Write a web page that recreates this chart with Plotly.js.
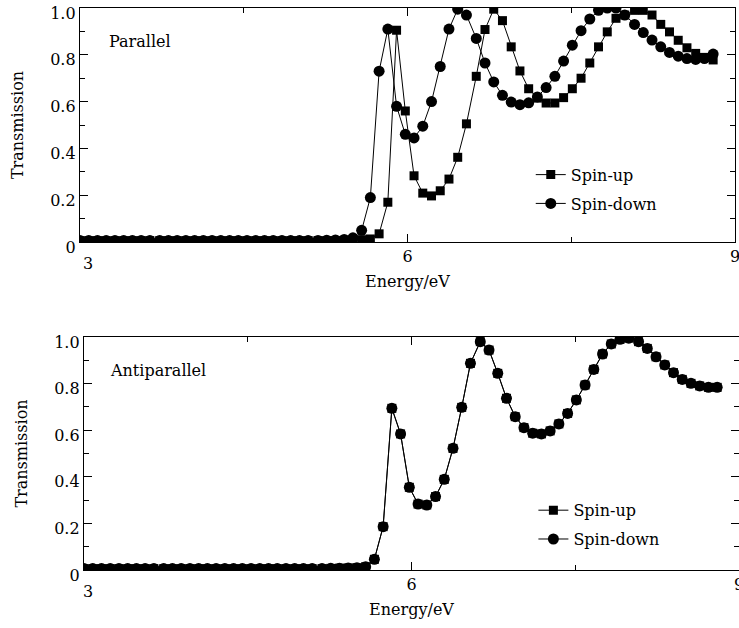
<!DOCTYPE html>
<html>
<head>
<meta charset="utf-8">
<script src="https://cdn.plot.ly/plotly-3.0.1.min.js"></script>
<style>html,body{margin:0;padding:0;background:#fff;}#chart{width:739px;height:628px;}</style>
</head>
<body>
<div id="chart"></div>
<script>
// Energy grid (eV)
var energy = [3.00,3.08,3.16,3.24,3.32,3.40,3.48,3.56,3.64,3.73,3.81,3.89,3.97,4.05,4.13,4.21,4.29,4.37,4.45,4.53,
  4.61,4.69,4.77,4.85,4.93,5.01,5.09,5.18,5.26,5.34,5.42,5.50,5.58,5.66,5.74,5.82,5.90,5.98,6.06,6.14,
  6.22,6.30,6.38,6.46,6.54,6.63,6.71,6.79,6.87,6.95,7.03,7.11,7.19,7.27,7.35,7.43,7.51,7.59,7.67,7.75,
  7.83,7.91,7.99,8.08,8.16,8.24,8.32,8.40,8.48,8.56,8.64,8.72,8.80];

// Parallel configuration
var parUp = [0.006,0.006,0.006,0.006,0.006,0.006,0.006,0.006,0.006,0.006,0.006,0.006,0.006,0.006,0.006,0.006,0.006,0.006,0.006,0.006,
  0.006,0.006,0.006,0.006,0.006,0.006,0.006,0.006,0.006,0.006,0.007,0.008,0.01,0.013,0.035,0.17,0.905,0.56,0.283,0.209,
  0.197,0.219,0.269,0.362,0.505,0.708,0.908,0.995,0.946,0.834,0.731,0.655,0.615,0.594,0.594,0.617,0.655,0.70,0.765,0.834,
  0.898,0.956,0.97,0.99,0.99,0.97,0.93,0.898,0.862,0.83,0.806,0.789,0.778];
var parDown = [0.006,0.006,0.006,0.006,0.006,0.006,0.006,0.006,0.006,0.006,0.006,0.006,0.006,0.006,0.006,0.006,0.006,0.006,0.006,0.006,
  0.006,0.006,0.006,0.006,0.006,0.006,0.006,0.007,0.008,0.009,0.011,0.018,0.05,0.19,0.73,0.91,0.58,0.46,0.445,0.495,
  0.60,0.75,0.91,0.995,0.97,0.87,0.765,0.684,0.627,0.598,0.587,0.595,0.62,0.66,0.708,0.773,0.841,0.903,0.953,0.99,
  1.0,1.0,0.97,0.93,0.895,0.863,0.834,0.81,0.794,0.784,0.78,0.784,0.803];

// Antiparallel configuration
var antiUp = [0.006,0.006,0.006,0.006,0.006,0.006,0.006,0.006,0.006,0.006,0.006,0.006,0.006,0.006,0.006,0.006,0.006,0.006,0.006,0.006,
  0.006,0.006,0.006,0.006,0.006,0.006,0.006,0.006,0.007,0.008,0.009,0.01,0.014,0.046,0.186,0.694,0.584,0.355,0.283,0.279,
  0.315,0.389,0.522,0.698,0.887,0.98,0.944,0.844,0.737,0.658,0.611,0.587,0.584,0.597,0.627,0.672,0.73,0.794,0.861,0.927,
  0.97,0.99,0.995,0.98,0.951,0.915,0.88,0.847,0.818,0.801,0.79,0.784,0.784];
var antiDown = [0.006,0.006,0.006,0.006,0.006,0.006,0.006,0.006,0.006,0.006,0.006,0.006,0.006,0.006,0.006,0.006,0.006,0.006,0.006,0.006,
  0.006,0.006,0.006,0.006,0.006,0.006,0.006,0.006,0.007,0.008,0.009,0.01,0.014,0.046,0.186,0.694,0.584,0.355,0.283,0.279,
  0.315,0.389,0.522,0.698,0.887,0.98,0.944,0.844,0.737,0.658,0.611,0.587,0.584,0.597,0.627,0.672,0.73,0.794,0.861,0.927,
  0.97,0.99,0.995,0.98,0.951,0.915,0.88,0.847,0.818,0.801,0.79,0.784,0.784];

var xTickVals = [3, 6, 9];
var xTickText = ['', '6', '9'];
var yTickVals = [0, 0.2, 0.4, 0.6, 0.8, 1.0];
var yTickText = ['0', '0.2', '0.4', '0.6', '0.8', '1.0'];
var seriesNames = ['Spin-up', 'Spin-down'];
var panelLabels = ['Parallel', 'Antiparallel'];

var FONT = 'DejaVu Serif, serif';
var fnt = {family: FONT, size: 16, color: '#000'};

function tr(y, name, sym, size, xa, ya, leg) {
  return {
    x: energy, y: y, name: name, type: 'scatter', mode: 'lines+markers',
    xaxis: xa, yaxis: ya, legend: leg, legendgroup: leg + name,
    line: {color: '#000', width: 1},
    marker: {symbol: sym, size: size, color: '#000', line: {width: 0}},
    cliponaxis: true
  };
}

var data = [
  tr(parUp, seriesNames[0], 'square', 9, 'x', 'y', 'legend'),
  tr(parDown, seriesNames[1], 'circle', 11, 'x', 'y', 'legend'),
  tr(antiUp, seriesNames[0], 'square', 9, 'x2', 'y2', 'legend2'),
  tr(antiDown, seriesNames[1], 'circle', 11, 'x2', 'y2', 'legend2')
];

function xax(domain, anchor) {
  return {
    domain: domain, anchor: anchor, range: [3, 9],
    tickmode: 'array', tickvals: xTickVals, ticktext: xTickText,
    ticks: 'inside', ticklen: 8, tickwidth: 1, tickcolor: '#000',
    minor: {tickmode: 'array', tickvals: [4.5, 7.5], ticks: 'inside', ticklen: 5, tickcolor: '#000'},
    mirror: 'ticks', showline: true, linecolor: '#000', linewidth: 1.2,
    showgrid: false, zeroline: false, tickfont: fnt, ticklabeloverflow: 'allow',
    title: {text: 'Energy/eV', font: fnt, standoff: 10}
  };
}
function yax(domain, anchor) {
  return {
    domain: domain, anchor: anchor, range: [0, 1.0],
    tickmode: 'array', tickvals: yTickVals, ticktext: yTickText,
    ticks: 'inside', ticklen: 8, tickwidth: 1, tickcolor: '#000',
    minor: {tickmode: 'linear', tick0: 0, dtick: 0.1, ticks: 'inside', ticklen: 5, tickcolor: '#000'},
    mirror: 'ticks', showline: true, linecolor: '#000', linewidth: 1.2,
    showgrid: false, zeroline: false, tickfont: fnt, ticklabelshift: 5, ticklabeloverflow: 'allow',
    title: {text: 'Transmission', font: fnt, standoff: 22}
  };
}

var leg = {
  font: fnt, bgcolor: 'rgba(0,0,0,0)', borderwidth: 0,
  xanchor: 'left', yanchor: 'top', traceorder: 'grouped', tracegroupgap: 5
};

var layout = {
  width: 739, height: 628,
  margin: {l: 80, r: 0, t: 8, b: 58},
  paper_bgcolor: '#fff', plot_bgcolor: '#fff',
  font: fnt, showlegend: true,
  xaxis: xax([0, 0.9939], 'y'),
  yaxis: yax([0.5836, 1], 'x'),
  xaxis2: xax([0.0061, 1], 'y2'),
  yaxis2: yax([0, 0.4146], 'x2'),
  legend: Object.assign({}, leg, {x: 0.684, y: 0.7336}),
  legend2: Object.assign({}, leg, {x: 0.688, y: 0.1365}),
  annotations: [
    {xref: 'x', yref: 'y', x: 3.25, y: 0.855, text: panelLabels[0], showarrow: false, xanchor: 'left', font: fnt},
    {xref: 'x2', yref: 'y2', x: 3.22, y: 0.858, text: panelLabels[1], showarrow: false, xanchor: 'left', font: fnt},
    {xref: 'x', yref: 'paper', x: 3, y: 0.5836, text: '3', showarrow: false, xanchor: 'center', yanchor: 'top', xshift: 8, yshift: -10, font: fnt},
    {xref: 'x2', yref: 'paper', x: 3, y: 0, text: '3', showarrow: false, xanchor: 'center', yanchor: 'top', xshift: 4, yshift: -10, font: fnt}
  ]
};

Plotly.newPlot('chart', data, layout, {displayModeBar: false, staticPlot: true});
</script>
</body>
</html>
